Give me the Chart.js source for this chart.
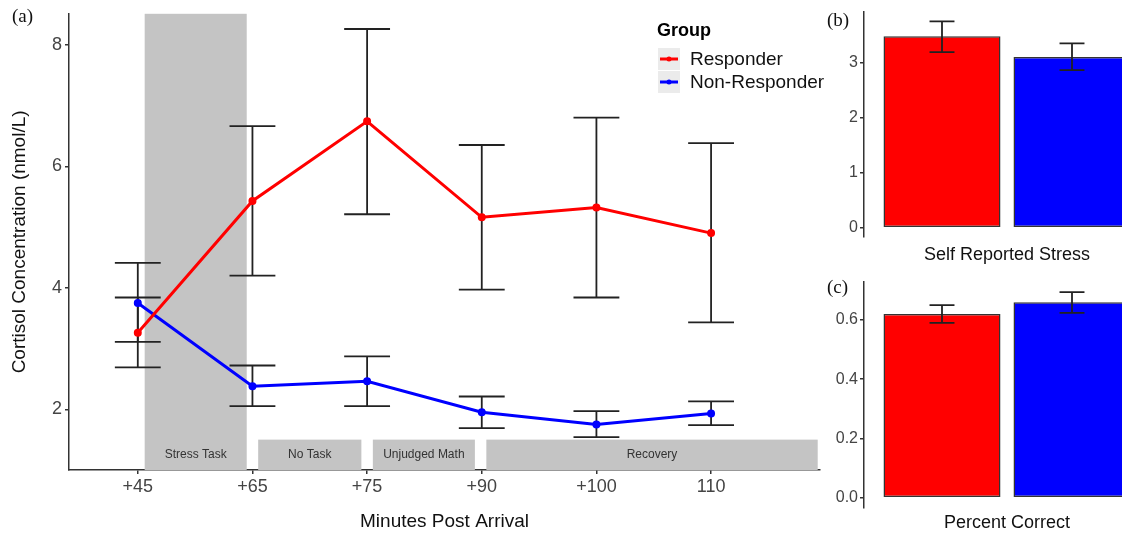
<!DOCTYPE html>
<html>
<head>
<meta charset="utf-8">
<script src="https://cdn.jsdelivr.net/npm/chart.js@4.4.1/dist/chart.umd.min.js"></script>
<style>
html, body { margin: 0; padding: 0; width: 1122px; height: 535px; overflow: hidden; background: #fff; }
canvas { position: absolute; }
.tag { position: absolute; font-family: 'Liberation Serif', 'Times New Roman', serif; font-size: 19px; color: #111; line-height: 22px; }
</style>
</head>
<body>
<canvas id="mainChart" width="830" height="535" style="left:0;top:0"></canvas>
<canvas id="stressChart" width="340" height="268" style="left:820px;top:0"></canvas>
<canvas id="correctChart" width="340" height="267" style="left:820px;top:268px"></canvas>
<div class="tag" style="left:12px;top:5px">(a)</div>
<div class="tag" style="left:827px;top:9px">(b)</div>
<div class="tag" style="left:827px;top:276px">(c)</div>
<script>
const timeLabels = ['+45', '+65', '+75', '+90', '+100', '110'];
const responderMean = [3.26, 5.43, 6.74, 5.16, 5.32, 4.90];
const responderLow = [2.69, 4.20, 5.21, 3.97, 3.84, 3.43];
const responderHigh = [3.84, 6.66, 8.26, 6.35, 6.80, 6.38];
const nonResponderMean = [3.75, 2.38, 2.46, 1.95, 1.75, 1.93];
const nonResponderLow = [3.11, 2.05, 2.05, 1.69, 1.54, 1.74];
const nonResponderHigh = [4.41, 2.72, 2.87, 2.21, 1.97, 2.13];
const cortisolTicks = [2, 4, 6, 8];

const phaseNames = ['Stress Task', 'No Task', 'Unjudged Math', 'Recovery'];
const phaseStart = [0.06, 1.05, 2.05, 3.04];
const phaseEnd = [0.95, 1.95, 2.94, 5.93];
const phaseFullHeight = [true, false, false, false];

const groupNames = ['Responder', 'Non-Responder'];
const groupColors = ['#ff0000', '#0000ff'];

const stressMean = [3.49, 3.11];
const stressLow = [3.20, 2.87];
const stressHigh = [3.76, 3.36];
const stressTicks = [0, 1, 2, 3];

const correctMean = [0.62, 0.66];
const correctLow = [0.59, 0.624];
const correctHigh = [0.65, 0.694];
const correctTicks = [0, 0.2, 0.4, 0.6];

Chart.defaults.font.family = '"Liberation Sans", Arial, sans-serif';

// gray task periods behind the lines
const phasePlugin = {
    id: 'phases',
    beforeDatasetsDraw(chart) {
        const { ctx, chartArea, scales: { x, y } } = chart;
        ctx.save();
        phaseNames.forEach((name, i) => {
            const left = x.getPixelForValue(phaseStart[i]);
            const right = x.getPixelForValue(phaseEnd[i]);
            const bottom = y.getPixelForValue(1.0);
            const top = phaseFullHeight[i] ? chartArea.top : y.getPixelForValue(1.5);
            ctx.fillStyle = '#c4c4c4';
            ctx.fillRect(left, top, right - left, bottom - top);
            ctx.fillStyle = '#333';
            ctx.font = '12px "Liberation Sans", Arial, sans-serif';
            ctx.textAlign = 'center';
            ctx.textBaseline = 'middle';
            ctx.fillText(name, (left + right) / 2, y.getPixelForValue(1.25));
        });
        ctx.restore();
    }
};

function errorBarPlugin(groups, xOf, capHalf, stage) {
    return {
        id: 'errorBars',
        [stage](chart) {
            const { ctx, scales: { x, y } } = chart;
            ctx.save();
            ctx.strokeStyle = '#222';
            ctx.lineWidth = 1.8;
            groups.forEach(([low, high]) => {
                low.forEach((lo, i) => {
                    const cx = x.getPixelForValue(xOf(i));
                    const hw = x.getPixelForValue(xOf(i) + capHalf) - cx;
                    const yLo = y.getPixelForValue(lo);
                    const yHi = y.getPixelForValue(high[i]);
                    ctx.beginPath();
                    ctx.moveTo(cx, yLo); ctx.lineTo(cx, yHi);
                    ctx.moveTo(cx - hw, yLo); ctx.lineTo(cx + hw, yLo);
                    ctx.moveTo(cx - hw, yHi); ctx.lineTo(cx + hw, yHi);
                    ctx.stroke();
                });
            });
            ctx.restore();
        }
    };
}

const legendPlugin = {
    id: 'groupLegend',
    afterDraw(chart) {
        const ctx = chart.ctx;
        ctx.save();
        ctx.textBaseline = 'middle';
        ctx.textAlign = 'left';
        ctx.fillStyle = '#000';
        ctx.font = 'bold 18px "Liberation Sans", Arial, sans-serif';
        ctx.fillText('Group', 657, 31);
        groupNames.forEach((name, i) => {
            const top = 48 + i * 23;
            ctx.fillStyle = '#ebebeb';
            ctx.fillRect(658, top, 22, 22);
            ctx.strokeStyle = groupColors[i];
            ctx.lineWidth = 3;
            ctx.beginPath();
            ctx.moveTo(660, top + 11);
            ctx.lineTo(678, top + 11);
            ctx.stroke();
            ctx.fillStyle = groupColors[i];
            ctx.beginPath();
            ctx.arc(669, top + 11, 2.5, 0, Math.PI * 2);
            ctx.fill();
            ctx.fillStyle = '#111';
            ctx.font = '19px "Liberation Sans", Arial, sans-serif';
            ctx.fillText(name, 690, top + 12);
        });
        ctx.restore();
    }
};

function lineSet(label, values, color) {
    return {
        label: label,
        data: values.map((v, i) => ({ x: i, y: v })),
        borderColor: color,
        backgroundColor: color,
        pointBackgroundColor: color,
        pointBorderColor: color,
        borderWidth: 3,
        pointRadius: 2.5,
        pointHoverRadius: 2.5,
        tension: 0
    };
}

new Chart(document.getElementById('mainChart'), {
    type: 'line',
    data: {
        datasets: [
            lineSet(groupNames[0], responderMean, groupColors[0]),
            lineSet(groupNames[1], nonResponderMean, groupColors[1])
        ]
    },
    options: {
        responsive: false,
        animation: false,
        layout: { padding: { top: 10, right: 10, left: 0, bottom: 0 } },
        plugins: { legend: { display: false }, tooltip: { enabled: false } },
        scales: {
            x: {
                type: 'linear',
                min: -0.6,
                max: 5.95,
                afterBuildTicks: s => { s.ticks = timeLabels.map((_, i) => ({ value: i })); },
                afterFit: s => { s.height = 65; },
                ticks: {
                    callback: v => timeLabels[v],
                    autoSkip: false,
                    maxRotation: 0,
                    padding: 2,
                    color: '#444',
                    font: { size: 18 }
                },
                grid: { drawOnChartArea: false, tickLength: 4, color: '#333', lineWidth: 1.5 },
                border: { color: '#333', width: 1.5 },
                title: { display: true, text: 'Minutes Post Arrival', color: '#111', font: { size: 19 }, padding: { top: 0, bottom: 2 } }
            },
            y: {
                min: 1.0,
                max: 8.51,
                afterBuildTicks: s => { s.ticks = cortisolTicks.map(v => ({ value: v })); },
                afterFit: s => { s.width = 69; },
                ticks: { padding: 3, color: '#444', font: { size: 18 } },
                grid: { drawOnChartArea: false, tickLength: 4, color: '#333', lineWidth: 1.5 },
                border: { color: '#333', width: 1.5 },
                title: { display: true, text: 'Cortisol Concentration (nmol/L)', color: '#111', font: { size: 19 }, padding: { top: 8, bottom: 0 } }
            }
        }
    },
    plugins: [
        phasePlugin,
        errorBarPlugin([[responderLow, responderHigh], [nonResponderLow, nonResponderHigh]], i => i, 0.2, 'beforeDatasetsDraw'),
        legendPlugin
    ]
});

function barChart(id, means, lows, highs, ticks, yMin, yMax, title, fmt, padTop, axisHeight, titlePad) {
    new Chart(document.getElementById(id), {
        type: 'bar',
        data: {
            datasets: [{
                data: means.map((v, i) => ({ x: i + 1, y: v })),
                backgroundColor: groupColors,
                borderColor: '#333',
                borderWidth: 1.5,
                borderSkipped: false,
                barPercentage: 0.9,
                categoryPercentage: 1
            }]
        },
        options: {
            responsive: false,
            animation: false,
            layout: { padding: { top: padTop, right: 10, left: 0, bottom: 0 } },
            plugins: { legend: { display: false }, tooltip: { enabled: false } },
            scales: {
                x: {
                    type: 'linear',
                    min: 0.4,
                    max: 2.6,
                    offset: false,
                    afterBuildTicks: s => { s.ticks = means.map((_, i) => ({ value: i + 1 })); },
                    afterFit: s => { s.height = axisHeight; },
                    ticks: { display: false },
                    grid: { display: false, offset: false },
                    border: { display: false },
                    title: { display: true, text: title, color: '#111', font: { size: 18 }, padding: { top: 0, bottom: titlePad } }
                },
                y: {
                    min: yMin,
                    max: yMax,
                    afterBuildTicks: s => { s.ticks = ticks.map(v => ({ value: v })); },
                    afterFit: s => { s.width = 44; },
                    ticks: { padding: 2, color: '#444', font: { size: 16 }, callback: fmt },
                    grid: { drawOnChartArea: false, tickLength: 4, color: '#333', lineWidth: 1.5 },
                    border: { color: '#333', width: 1.5 }
                }
            }
        },
        plugins: [errorBarPlugin([[lows, highs]], i => i + 1, 0.096, 'afterDatasetsDraw')]
    });
}

barChart('stressChart', stressMean, stressLow, stressHigh, stressTicks, -0.17, 3.93,
    'Self Reported Stress', v => String(v), 12, 31, 2.5);
barChart('correctChart', correctMean, correctLow, correctHigh, correctTicks, -0.035, 0.728,
    'Percent Correct', v => v.toFixed(1), 14, 27, 1.5);
</script>
</body>
</html>
